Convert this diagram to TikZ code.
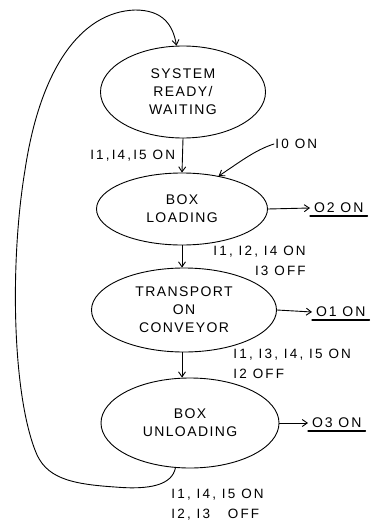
\documentclass[tikz,border=0pt]{standalone}
\usepackage{fontspec}
\setmainfont{Liberation Sans}
\usetikzlibrary{shapes.geometric,arrows.meta}

\begin{document}
\begin{tikzpicture}[x=1pt,y=-1pt,line cap=round,line join=round,line width=0.9pt,
    >={Straight Barb[length=5pt,width=7pt]},
    state/.style={ellipse,draw,align=center,inner sep=0pt,font=\fontsize{14}{18}\selectfont\addfontfeature{LetterSpace=10}},
    cond/.style={align=left,inner sep=1pt,font=\fontsize{13.5}{20}\selectfont\addfontfeature{LetterSpace=16}},
    outp/.style={inner sep=1pt,outer sep=3pt,font=\fontsize{14}{16}\selectfont\addfontfeature{LetterSpace=14}}]
  \useasboundingbox (0,0) rectangle (375,524);
  % states
  \node[state,minimum width=165,minimum height=92] (ready) at (183,92) {SYSTEM\\READY/\\WAITING};
  \node[state,minimum width=171,minimum height=72] (load) at (182,209) {BOX\\LOADING};
  \node[state,minimum width=185,minimum height=84] (conv) at (184,310) {TRANSPORT\\ON\\CONVEYOR};
  \node[state,minimum width=178,minimum height=90] (unload) at (190,423) {BOX\\UNLOADING};
  % transitions
  \draw[->] (ready.south) -- (load.north) node[midway,left=6pt,cond] {I1,I4,I5 ON};
  \draw[->] (load.south) -- (load.south |- conv.north);
  \draw[->] (conv.south -| load.south) -- (unload.north -| load.south);
  \node[cond,align=right,anchor=west] (c2) at (212,261) {I1, I2, I4 ON\\I3 OFF};
  \node[cond,anchor=west] (c3) at (232,364) {I1, I3, I4, I5 ON\\I2 OFF};
  \node[cond,anchor=west] (c4) at (170,505) {I1, I4, I5 ON\\I2, I3 \ \ OFF};
  % input
  \node[cond,anchor=west] (i0) at (274,144) {I0 ON};
  \draw[->] (i0.west) .. controls (255,150) and (240,162) .. (load.42);
  % outputs
  \node[outp,anchor=west] (o2) at (310,208) {O2 ON};
  \node[outp,anchor=west] (o1) at (312,312) {O1 ON};
  \node[outp,anchor=west] (o3) at (308,423) {O3 ON};
  \draw[->] (load.east) -- (o2.west);
  \draw[->] (conv.east) -- (o1.west);
  \draw[->] (unload.east) -- (o3.west);
  \foreach \o in {o1,o2,o3}{
    \draw[line width=1.2pt] ([yshift=1pt]\o.south west) -- ([yshift=1pt]\o.south east);
  }
  % loop back
  \draw[->] (unload.252) .. controls (172,485) and (150,490) .. (115,487)
    .. controls (70,484) and (45,478) .. (35,450)
    .. controls (12,390) and (10,260) .. (25,170)
    .. controls (40,70) and (80,12) .. (135,10)
    .. controls (163,10) and (173,25) .. (ready.98);
\end{tikzpicture}
\end{document}
